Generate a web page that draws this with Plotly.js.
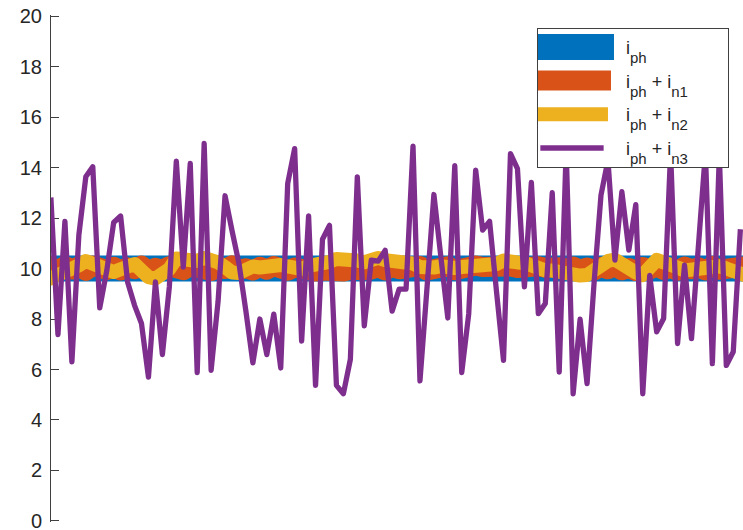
<!DOCTYPE html>
<html>
<head>
<meta charset="utf-8">
<script src="https://cdn.plot.ly/plotly-3.0.1.min.js"></script>
<style>
  html, body { margin: 0; padding: 0; background: #fff; }
  #chart { width: 743px; height: 530px; }
  .js-line { stroke-linecap: square; stroke-linejoin: round; }
  .cartesianlayer .plot { clip-path: none !important; }
</style>
</head>
<body>
<div id="chart"></div>
<script>
// Series values (100 samples each)
const iph = [
  10,10,10,10,10,10,10,10,10,10, 10,10,10,10,10,10,10,10,10,10,
  10,10,10,10,10,10,10,10,10,10, 10,10,10,10,10,10,10,10,10,10,
  10,10,10,10,10,10,10,10,10,10, 10,10,10,10,10,10,10,10,10,10,
  10,10,10,10,10,10,10,10,10,10, 10,10,10,10,10,10,10,10,10,10,
  10,10,10,10,10,10,10,10,10,10, 10,10,10,10,10,10,10,10,10,10
];
const iphN1 = [
  10.06, 9.93,10.10, 9.96,10.08, 9.91,10.12,10.02, 9.94,10.07,
   9.92,10.05, 9.97,10.11, 9.90,10.03, 9.95,10.09,10.00, 9.93,
  10.10, 9.96,10.04, 9.90,10.08, 9.98,10.12, 9.94,10.01, 9.92,
  10.07, 9.95,10.10, 9.97, 9.91,10.04, 9.93,10.02, 9.88, 9.92,
   9.86, 9.90, 9.88, 9.95, 9.87, 9.93, 9.96,10.05, 9.92,10.08,
   9.97,10.03, 9.94,10.10, 9.92,10.02, 9.96,10.09, 9.93,10.05,
  10.00,10.12,10.06,10.10,10.04,10.13,10.08,10.02,10.11,10.06,
  10.09,10.03,10.12,10.05,10.00,10.08, 9.95,10.04, 9.92,10.07,
   9.97,10.11, 9.93,10.02, 9.90,10.06, 9.96,10.09, 9.94,10.03,
   9.91,10.08, 9.97,10.05, 9.92,10.10, 9.95,10.02, 9.90,10.06
];
const iphN2 = [
   9.62, 9.72, 9.84, 9.98,10.12,10.30,10.18,10.20, 9.98, 9.86,
   9.97,10.12,10.18, 9.92, 9.66, 9.60, 9.74, 9.98,10.40,10.32,
  10.34,10.30,10.42,10.35,10.24,10.06, 9.84, 9.82, 9.96,10.08,
  10.04,10.12,10.10,10.14,10.08,10.06, 9.98,10.10,10.12,10.22,
  10.26,10.38,10.40,10.34,10.32,10.25,10.35,10.42,10.33,10.30,
  10.32,10.22,10.20,10.06,10.02,10.04,10.09,10.01,10.02,10.06,
  10.10,10.15,10.08,10.10,10.18,10.32,10.34,10.24,10.22,10.08,
  10.02, 9.93, 9.92, 9.84, 9.76, 9.66, 9.72, 9.74, 9.92,10.16,
  10.30,10.35,10.14,10.02, 9.84, 9.74,10.08,10.34,10.24,10.20,
  10.04, 9.92, 9.95, 9.94,10.06,10.05,10.09,10.00, 9.86, 9.80
];
const iphN3 = [
  12.71, 7.38,11.87, 6.30,11.32,13.63,14.03, 8.44, 9.90,11.82,
  12.08, 9.47, 8.54, 7.82, 5.70, 9.47, 6.59, 9.28,14.25,10.06,
  14.16, 5.88,14.95, 5.97, 8.70,12.88,11.50,10.20, 8.30, 6.26,
   8.00, 6.59, 8.19, 6.06,13.37,14.75, 7.12,12.08, 5.37,11.16,
  11.71, 5.37, 5.04, 6.40,13.63, 7.73,10.33,10.29,10.72, 8.31,
   9.18, 9.18,14.85, 5.55, 9.20,12.93,10.46, 8.04,14.07, 5.88,
   8.20,13.90,11.52,11.87, 9.07, 6.36,14.55,13.96, 9.27,13.41,
   8.21, 8.61,13.00, 5.90,14.70, 5.04, 7.99, 5.44, 9.40,12.90,
  14.30,10.33,13.04,10.73,12.53, 5.04, 9.73, 7.49, 8.02,14.60,
   7.03,10.13, 7.22,10.80,14.60, 6.23,14.50, 6.16, 6.70,11.45
];
// legend labels: base "i", subscripts
const legendParts = [
  [['i', 'ph']],
  [['i', 'ph'], ['i', 'n1']],
  [['i', 'ph'], ['i', 'n2']],
  [['i', 'ph'], ['i', 'n3']]
];
const yTicks = [0, 2, 4, 6, 8, 10, 12, 14, 16, 18, 20];

const NB = '\u00A0';
const subStyle = 'font-size:15px;baseline-shift:-9px';
const seriesNames = legendParts.map(parts =>
  NB.repeat(4) +
  parts.map(([b, s]) => b + '<span style="' + subStyle + '">' + s + '</span>').join(' + ') +
  NB.repeat(7)
);

const xs = iph.map((_, i) => i + 1);
const colors = ['#0072BD', '#D95319', '#EDB120', '#7E2F8E'];
const widths = [26, 20, 14, 5.3];
const series = [iph, iphN1, iphN2, iphN3];

const traces = series.map((ys, k) => ({
  type: 'scatter',
  mode: 'lines',
  x: xs,
  y: ys,
  name: seriesNames[k],
  legendgroup: 'g' + k,
  line: { color: colors[k], width: widths[k] },
  hoverinfo: 'skip'
}));

const layout = {
  width: 743,
  height: 530,
  margin: { l: 51, r: 0, t: 15, b: 8, pad: 0 },
  paper_bgcolor: '#ffffff',
  plot_bgcolor: '#ffffff',
  showlegend: true,
  font: { family: 'Liberation Sans, Arial, sans-serif', color: '#262626' },
  xaxis: {
    range: [1, 100.4],
    visible: false,
    fixedrange: true
  },
  yaxis: {
    range: [-0.04, 20.04],
    tickvals: yTicks,
    ticktext: yTicks.map(String),
    ticks: 'inside',
    ticklen: 8,
    tickwidth: 1,
    tickcolor: '#404040',
    showline: true,
    linecolor: '#404040',
    linewidth: 1,
    showgrid: false,
    zeroline: false,
    layer: 'below traces',
    ticklabelstandoff: 4,
    ticklabeloverflow: 'allow',
    tickfont: { size: 20, color: '#262626', family: 'Liberation Sans, Arial, sans-serif' },
    fixedrange: true
  },
  legend: {
    x: 0.7023,
    y: 0.975,
    xanchor: 'left',
    yanchor: 'top',
    bgcolor: '#ffffff',
    bordercolor: '#404040',
    borderwidth: 1,
    traceorder: 'grouped',
    tracegroupgap: 7.3,
    itemwidth: 58,
    font: { size: 18, color: '#262626', family: 'Liberation Sans, Arial, sans-serif' }
  }
};

Plotly.newPlot('chart', traces, layout, { staticPlot: true, displayModeBar: false }).then(gd => {
  // legend samples keep the full line widths of their traces
  gd.querySelectorAll('.legend .traces').forEach((g, k) => {
    const p = g.querySelector('.legendlines .js-line');
    if (p && widths[k] !== undefined) p.style.strokeWidth = widths[k] + 'px';
  });
});
</script>
</body>
</html>
